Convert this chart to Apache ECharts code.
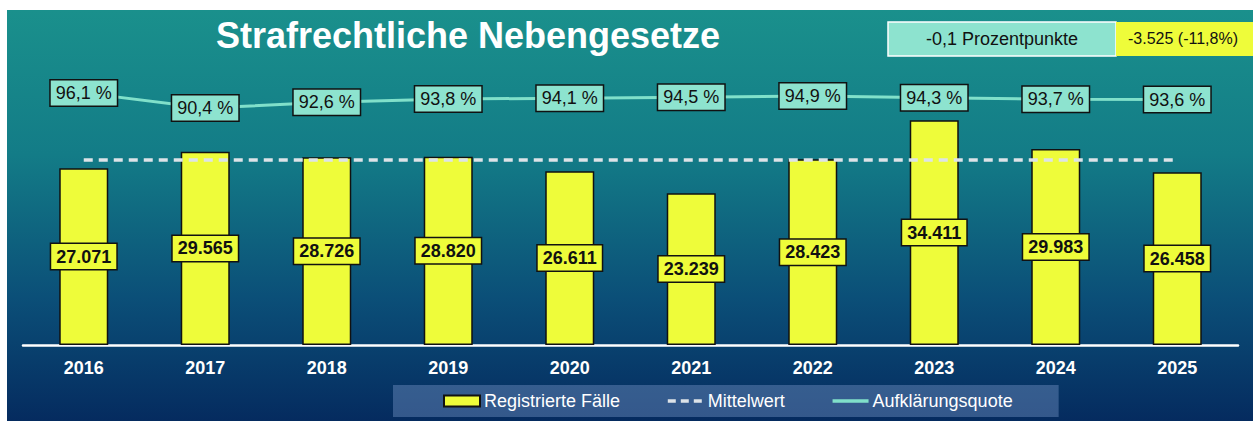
<!DOCTYPE html>
<html>
<head>
<meta charset="utf-8">
<script src="https://cdn.jsdelivr.net/npm/echarts@6/dist/echarts.min.js"></script>
<style>
html,body{margin:0;padding:0;background:#fff;}
#c{width:1253px;height:421px;}
</style>
</head>
<body>
<div id="c"></div>
<script>
const years = ['2016','2017','2018','2019','2020','2021','2022','2023','2024','2025'];
const registrierteFaelle = [27071, 29565, 28726, 28820, 26611, 23239, 28423, 34411, 29983, 26458];
const mittelwert = [28331, 28331, 28331, 28331, 28331, 28331, 28331, 28331, 28331, 28331];
const aufklaerungsquote = [96.1, 90.4, 92.6, 93.8, 94.1, 94.5, 94.9, 94.3, 93.7, 93.6];
const titleText = 'Strafrechtliche Nebengesetze';
const quoteChange = '-0,1 Prozentpunkte';
const casesChange = '-3.525 (-11,8%)';

const fmtThousands = v => String(v).replace(/\B(?=(\d{3})+(?!\d))/g, '.');
const fmtPct = v => v.toFixed(1).replace('.', ',') + ' %';

const chart = echarts.init(document.getElementById('c'), null, {renderer: 'svg'});
const FONT = '"Liberation Sans", Arial, sans-serif';

chart.setOption({
  animation: false,
  textStyle: {fontFamily: FONT},
  graphic: [
    {type: 'rect', z: -10, silent: true, shape: {x: 7, y: 10, width: 1246, height: 411},
      style: {fill: new echarts.graphic.LinearGradient(0, 0, 0, 1, [
        {offset: 0, color: '#1a908c'},
        {offset: 0.35, color: '#137c87'},
        {offset: 0.7, color: '#0b4f78'},
        {offset: 1, color: '#052b5f'}
      ])}},
    {type: 'text', z: 10, x: 468, y: 35,
      style: {text: titleText, fill: '#ffffff', font: 'bold 36px ' + FONT, textAlign: 'center', textVerticalAlign: 'middle'}},
    {type: 'rect', z: 10, shape: {x: 888, y: 22, width: 228, height: 34},
      style: {fill: '#8de3cf', stroke: '#ffffff', lineWidth: 1.5}},
    {type: 'text', z: 11, x: 1002, y: 39,
      style: {text: quoteChange, fill: '#111', font: '18px ' + FONT, textAlign: 'center', textVerticalAlign: 'middle'}},
    {type: 'rect', z: 10, shape: {x: 1116, y: 22, width: 140, height: 34},
      style: {fill: '#eefc3a', stroke: '#eefc3a', lineWidth: 0}},
    {type: 'text', z: 11, x: 1183, y: 38,
      style: {text: casesChange, fill: '#111', font: '16px ' + FONT, textAlign: 'center', textVerticalAlign: 'middle'}}
  ],
  legend: {
    left: 393, top: 385,
    padding: [7, 46, 7, 50],
    backgroundColor: 'rgba(120,150,200,0.42)',
    itemWidth: 36, itemHeight: 11, itemGap: 46,
    textStyle: {color: '#ffffff', fontSize: 18, fontFamily: FONT, padding: [0, 0, 0, -1]},
    data: [
      {name: 'Registrierte Fälle', icon: 'rect'},
      {name: 'Mittelwert', itemStyle: {opacity: 0}, lineStyle: {width: 3.5, type: [8, 5]}},
      {name: 'Aufklärungsquote', itemStyle: {opacity: 0}, lineStyle: {width: 3.5}}
    ]
  },
  grid: {left: 23, right: 15, top: 51, bottom: 76},
  xAxis: {
    type: 'category', data: years,
    axisLine: {lineStyle: {color: '#ffffff', width: 2.5}},
    axisTick: {show: false},
    axisLabel: {color: '#ffffff', fontWeight: 'bold', fontSize: 18, margin: 14, fontFamily: FONT}
  },
  yAxis: [
    {type: 'value', min: 0, max: 45000, show: false, splitLine: {show: false}},
    {type: 'value', min: 1.6, max: 111.8, show: false, splitLine: {show: false}}
  ],
  series: [
    {
      name: 'Registrierte Fälle', type: 'bar', data: registrierteFaelle, barWidth: 49, z: 2,
      itemStyle: {color: '#eefc3a', borderColor: '#111', borderWidth: 1.5},
      label: {
        show: true, position: 'inside', formatter: p => fmtThousands(p.value),
        color: '#111', fontWeight: 'bold', fontSize: 18, fontFamily: FONT,
        backgroundColor: '#eefc3a', borderColor: '#111', borderWidth: 1.5, padding: [4, 5, 3, 5]
      },
      labelLayout: {hideOverlap: false}
    },
    {
      name: 'Mittelwert', type: 'line', data: mittelwert, symbol: 'none', z: 3,
      lineStyle: {color: '#dde3e8', width: 3.5, type: [9, 6]},
      itemStyle: {color: '#dde3e8'}
    },
    {
      name: 'Aufklärungsquote', type: 'line', yAxisIndex: 1, data: aufklaerungsquote,
      symbol: 'circle', symbolSize: 1, showSymbol: true, z: 4,
      lineStyle: {color: '#80e0ca', width: 3},
      itemStyle: {color: '#80e0ca'},
      label: {
        show: true, position: 'inside', formatter: p => fmtPct(p.value),
        color: '#111', fontSize: 18, fontFamily: FONT,
        backgroundColor: '#8de3cf', borderColor: '#111', borderWidth: 1.5, padding: [4, 5, 3, 5]
      },
      labelLayout: {hideOverlap: false}
    }
  ]
});
</script>
</body>
</html>
